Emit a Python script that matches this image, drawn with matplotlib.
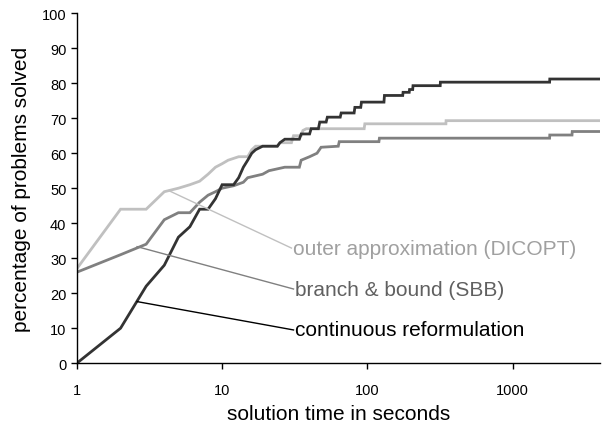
import matplotlib
matplotlib.use("Agg")
import matplotlib.pyplot as plt
from matplotlib.ticker import FixedLocator, NullLocator

plt.rcParams['font.family'] = ['Liberation Sans', 'DejaVu Sans']

# continuous reformulation (sampled at whole seconds)
cont_t = [1, 2, 3, 4, 5, 6, 7, 8, 9, 10, 12, 13, 14, 15, 16, 17, 19, 24, 25, 27, 34, 35,
          40, 41, 46, 47, 52, 53, 65, 66, 81, 82, 90, 91, 98, 130, 131, 137, 138, 175, 176,
          194, 195, 205, 206, 224, 225, 317, 318, 1795, 1800, 4000]
cont_v = [0, 10, 22, 28, 36, 39, 44, 44, 47, 51, 51, 53, 56, 58, 60, 61, 62, 62, 63, 64, 64, 65.5,
          65.5, 67, 67, 68.9, 68.9, 70.3, 70.3, 71.5, 71.5, 73.1, 73.1, 74.6, 74.6, 74.6, 76.5, 76.5,
          76.5, 76.5, 77.4, 77.4, 78.2, 78.2, 79.3, 79.3, 79.3, 79.3, 80.3, 80.3, 81.2, 81.2]

# branch & bound (SBB)
sbb_t = [1, 2, 3, 4, 5, 6, 7, 8, 9, 10, 12, 14, 15, 19, 21, 27, 34, 35, 40, 45, 48, 63, 64,
         120, 121, 1795, 1800, 2560, 2570, 4000]
sbb_v = [26, 31, 34, 41, 43, 43, 46, 48, 49, 50, 50.7, 51.7, 53, 54, 55, 56, 56, 58, 59, 60,
         61.7, 62, 63.3, 63.3, 64.3, 64.3, 65.2, 65.2, 66.2, 66.2]

# outer approximation (DICOPT)
oa_t = [1, 2, 3, 4, 5, 6, 7, 8, 9, 10, 11, 13, 15, 16, 17, 24, 25, 30, 31, 35, 36, 38,
        95, 96, 347, 348, 4000]
oa_v = [27, 44, 44, 49, 50, 51, 52, 54, 56, 57, 58, 59, 59, 61, 62, 62, 63, 63, 65, 65, 66.5, 67,
        67, 68.4, 68.4, 69.3, 69.3]

labels = ["outer approximation (DICOPT)", "branch & bound (SBB)", "continuous reformulation"]
x_ticks = [1, 10, 100, 1000]
y_ticks = list(range(0, 101, 10))

fig = plt.figure(figsize=(6.05, 4.31), dpi=100)
ax = fig.add_axes([0.127, 0.155, 0.865, 0.812])

ax.plot(oa_t, oa_v, color='#c0c0c0', lw=2.0, solid_joinstyle='miter')
ax.plot(sbb_t, sbb_v, color='#808080', lw=2.0, solid_joinstyle='miter')
ax.plot(cont_t, cont_v, color='#333333', lw=2.0, solid_joinstyle='miter')

ax.set_xscale('log')
ax.set_xlim(1, 4000)
ax.set_ylim(0, 100)
ax.xaxis.set_major_locator(FixedLocator(x_ticks))
ax.xaxis.set_minor_locator(NullLocator())
ax.set_xticklabels([str(t) for t in x_ticks])
ax.set_yticks(y_ticks)
ax.tick_params(axis='both', direction='out', length=4, width=1, labelsize=10.5, colors='black')
ax.tick_params(axis='x', pad=10)
for s in ['top', 'right']:
    ax.spines[s].set_visible(False)
for s in ['left', 'bottom']:
    ax.spines[s].set_linewidth(1)

ax.set_xlabel("solution time in seconds", fontsize=15, labelpad=5)
ax.set_ylabel("percentage of problems solved", fontsize=15, labelpad=8)

# leader-line annotations
ann = [
    (labels[0], (4.3, 49.3), (30.0, 32.9), '#c0c0c0', '#a0a0a0'),
    (labels[1], (2.6, 33.3), (31.0, 21.2), '#808080', '#606060'),
    (labels[2], (2.6, 17.6), (31.0, 9.5), '#000000', '#000000'),
]
for txt, p0, p1, lc, tc in ann:
    ax.plot([p0[0], p1[0]], [p0[1], p1[1]], color=lc, lw=1.0)
    ax.text(p1[0] * 1.03, p1[1], txt, color=tc, fontsize=15, va='center', ha='left')

fig.savefig("out.png", dpi=100)
